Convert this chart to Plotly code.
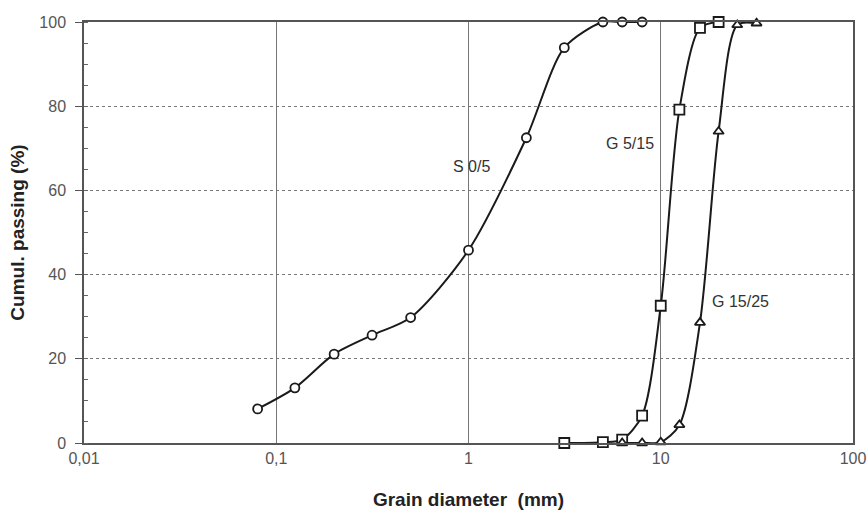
import math
import plotly.graph_objects as go

# ---- data ----
s05_d = [0.08, 0.125, 0.2, 0.315, 0.5, 1.0, 2.0, 3.15, 5.0, 6.3, 8.0]
s05_p = [8.1, 13.1, 21.1, 25.6, 29.8, 45.8, 72.5, 93.9, 100, 100, 100]

g515_d = [3.15, 5.0, 6.3, 8.0, 10.0, 12.5, 16.0, 20.0]
g515_p = [0.0, 0.2, 0.8, 6.5, 32.6, 79.2, 98.6, 100]

g1525_d = [6.3, 8.0, 10.0, 12.5, 16.0, 20.0, 25.0, 31.5]
g1525_p = [0.0, 0.0, 0.2, 4.3, 28.6, 74.0, 99.3, 99.7]

x_tickvals = [0.01, 0.1, 1, 10, 100]
x_ticktext = ["0,01", "0,1", "1", "10", "100"]
y_tickvals = [0, 20, 40, 60, 80, 100]

labels = [("S 0/5", 1.04, 65.6), ("G 5/15", 6.93, 71.2), ("G 15/25", 25.9, 33.6)]

font_family = "Liberation Sans, Arial, sans-serif"

fig = go.Figure()

def add_series(x, y, symbol, size):
    fig.add_trace(go.Scatter(
        x=x, y=y, mode="lines+markers",
        line=dict(color="#1a1a1a", width=2, shape="spline", smoothing=0.8),
        marker=dict(symbol=symbol, size=size, color="white",
                    line=dict(color="#1a1a1a", width=1.8)),
        showlegend=False, cliponaxis=False,
    ))

add_series(s05_d, s05_p, "circle", 9)
add_series(g515_d, g515_p, "square", 10)
add_series(g1525_d, g1525_p, "triangle-up", 9)

for txt, xv, yv in labels:
    fig.add_annotation(x=math.log10(xv), y=yv, text=txt, showarrow=False,
                       font=dict(family=font_family, size=16, color="#333"))

fig.update_layout(
    width=868, height=517,
    margin=dict(l=84, r=15, t=22, b=74),
    paper_bgcolor="white", plot_bgcolor="white",
    font=dict(family=font_family, size=16, color="#555"),
)

fig.update_xaxes(
    type="log", range=[-2, 2], automargin=False,
    tickvals=x_tickvals, ticktext=x_ticktext,
    showgrid=True, gridcolor="#777", gridwidth=1,
    showline=True, linecolor="#555", linewidth=1.5, mirror=True,
    ticks="", tickfont=dict(size=16, color="#555"),
    title=dict(text="<b>Grain diameter  (mm)</b>", standoff=27,
               font=dict(size=19, color="#222")),
    zeroline=False,
)
fig.update_yaxes(
    range=[0, 100], tickvals=y_tickvals, automargin=False,
    showgrid=True, gridcolor="#777", gridwidth=1, griddash="dot",
    showline=True, linecolor="#555", linewidth=1.5, mirror=True,
    ticks="outside", ticklen=7, tickcolor="#555", ticklabelstandoff=6,
    minor=dict(dtick=5, ticks="inside", ticklen=4, tickcolor="#666", showgrid=False),
    tickfont=dict(size=16, color="#555"),
    title=dict(text="<b>Cumul. passing (%)</b>", standoff=10,
               font=dict(size=19, color="#222")),
    zeroline=False,
)

# remove the default page margin so the 868x517 figure fills the window exactly
fig.write_html(
    "out.html",
    config={"displayModeBar": False},
    post_script="document.body.style.margin='0';document.body.style.overflow='hidden';",
)
